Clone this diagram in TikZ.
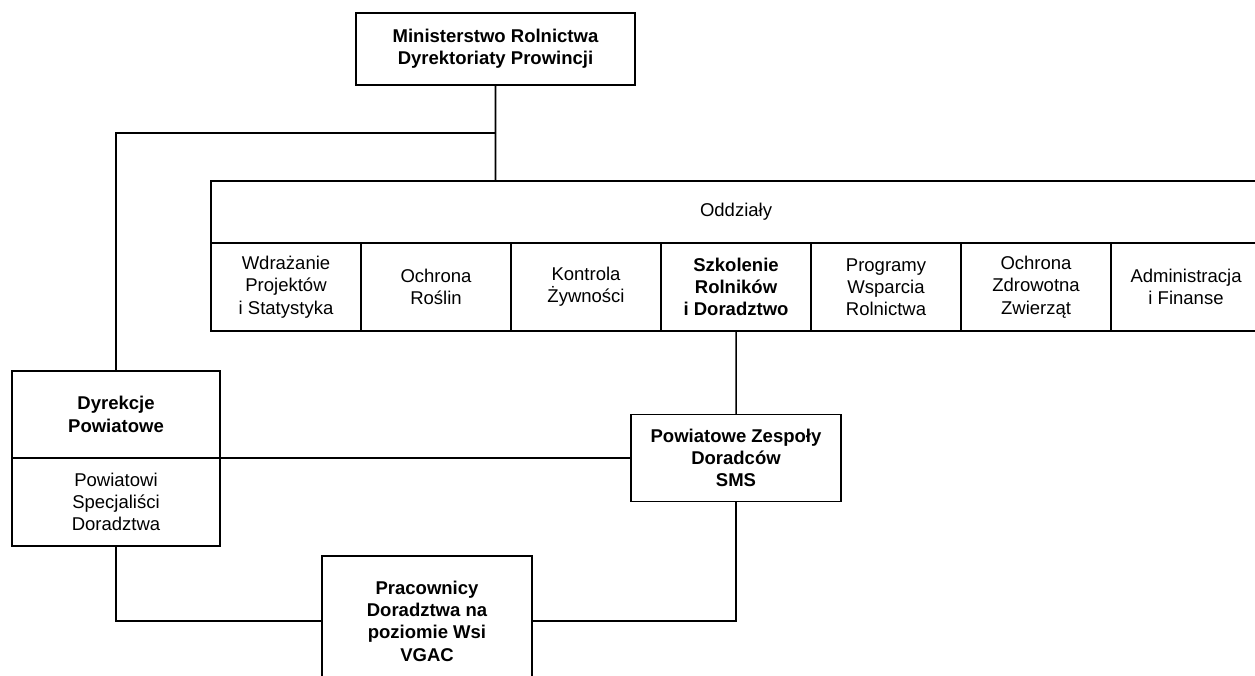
\documentclass[tikz,border=0pt]{standalone}
\usepackage{fontspec}
\setmainfont{Liberation Sans}
\usetikzlibrary{positioning}

\begin{document}
\begin{tikzpicture}[x=0.03cm, y=-0.03cm, line width=1.3pt,
    box/.style={rectangle, draw, fill=white, align=center, outer sep=0pt, inner sep=0pt,
        font=\fontsize{15.8}{19}\selectfont},
    bbox/.style={box, font=\fontsize{15.8}{19}\selectfont\bfseries},
    cell/.style={box, minimum width=4.5cm, minimum height=2.64cm}]
        \useasboundingbox (0, 0) rectangle (1255, 676);
        \clip (0, 0) rectangle (1255, 676);
        \fill[white] (0, 0) rectangle (1255, 676);

        \node[bbox, minimum width=8.37cm, minimum height=2.16cm] at (495.5, 49) (min) {Ministerstwo Rolnictwa\\Dyrektoriaty Prowincji};

        \node[box, minimum width=31.5cm, minimum height=1.86cm, anchor=north west] at (211, 181) (oddz) {Oddziały};
        \node[cell, anchor=north west] at (211, 243) (c1) {Wdrażanie\\Projektów\\i Statystyka};
        \node[cell, right=0pt of c1] (c2) {Ochrona\\Roślin};
        \node[cell, right=0pt of c2] (c3) {Kontrola\\Żywności};
        \node[cell, right=0pt of c3, font=\fontsize{15.8}{19}\selectfont\bfseries] (c4) {Szkolenie\\Rolników\\i Doradztwo};
        \node[cell, right=0pt of c4] (c5) {Programy\\Wsparcia\\Rolnictwa};
        \node[cell, right=0pt of c5] (c6) {Ochrona\\Zdrowotna\\Zwierząt};
        \node[cell, right=0pt of c6] (c7) {Administracja\\i Finanse};

        \node[bbox, minimum width=6.24cm, minimum height=2.61cm] at (116, 414.5) (dyr) {Dyrekcje\\Powiatowe};
        \node[box, minimum width=6.24cm, minimum height=2.64cm, below=0pt of dyr] (spec) {Powiatowi\\Specjaliści\\Doradztwa};

        \node[bbox, minimum width=6.3cm, minimum height=2.61cm] at (736, 458) (zesp) {Powiatowe Zespoły\\Doradców\\SMS};

        \node[bbox, minimum width=6.3cm, minimum height=3.9cm] at (427, 621) (prac) {Pracownicy\\Doradztwa na\\poziomie Wsi\\VGAC};

        \coordinate (br) at (495.5, 133);

        \draw (min) to (min |- oddz.north)
            (br) -| (dyr)
            (c4) to (zesp)
            (spec.north east) to (zesp.west)
            (spec) |- (prac.west)
            (prac.east) -| (zesp.south);
    \end{tikzpicture}
\end{document}
